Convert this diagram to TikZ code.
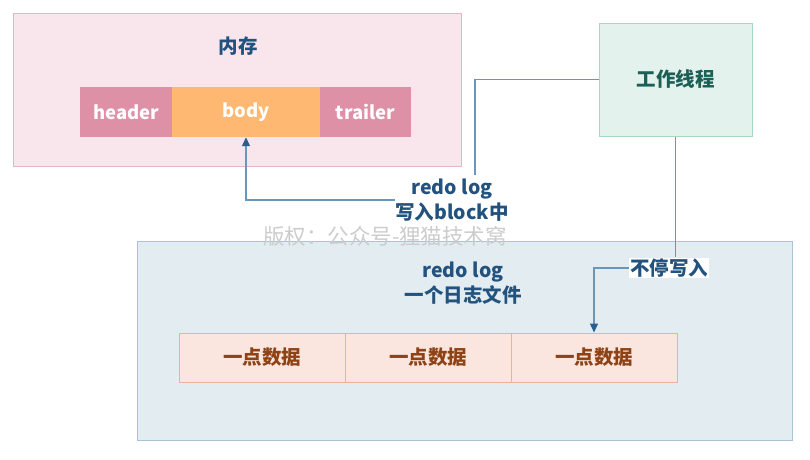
\documentclass[tikz,border=0pt]{standalone}
\usepackage{fontspec}
\setmainfont{Noto Sans CJK SC}
\usetikzlibrary{arrows.meta}
\definecolor{memfill}{HTML}{F9E6EC}
\definecolor{memline}{HTML}{E7B5C4}
\definecolor{hdrfill}{HTML}{DE90A7}
\definecolor{bodyfill}{HTML}{FEB872}
\definecolor{workfill}{HTML}{E3F2EC}
\definecolor{workline}{HTML}{A7D8C2}
\definecolor{worktext}{HTML}{1D5E57}
\definecolor{logfill}{HTML}{E3ECF1}
\definecolor{logline}{HTML}{A7C5D8}
\definecolor{cellfill}{HTML}{FAE6DF}
\definecolor{cellline}{HTML}{E9B29A}
\definecolor{celltext}{HTML}{8E4317}
\definecolor{textblue}{HTML}{22527D}
\definecolor{flowline}{HTML}{6A96B8}
\definecolor{tipblue}{HTML}{2A5F8D}

\begin{document}
\begin{tikzpicture}[x=1pt, y=-1pt, >=Triangle,
    every node/.style={inner sep=0pt, font=\fontsize{19.5}{25}\selectfont\bfseries},
    area/.style={draw=#1, line width=1pt},
    part/.style={minimum height=50pt, text=white, font=\fontsize{18.5}{24}\selectfont\bfseries},
    cell/.style={fill=cellfill, draw=cellline, line width=1pt, minimum width=166pt, minimum height=49pt, text=celltext},
    note/.style={text=textblue, align=center},
    flow/.style={draw=flowline, line width=1.2pt, arrows={-Triangle[length=9pt, width=8pt, color=tipblue]}}]
    \useasboundingbox (0,0) rectangle (810,459);
    % memory
    \filldraw[area=memline, fill=memfill] (13,13) rectangle (461,166);
    \node[note] (memtitle) at (238,46) {内存};
    \node[part, fill=hdrfill, minimum width=92pt] (header) at (126,112) {header};
    \node[part, fill=bodyfill, minimum width=148pt] (body) at (246,112) {body};
    \node[part, fill=hdrfill, minimum width=91pt] (trailer) at (365.5,112) {trailer};
    % worker thread
    \node[area=workline, fill=workfill, minimum width=153pt, minimum height=113pt, text=worktext] (worker) at (675.5,79.5) {工作线程};
    % redo log file
    \filldraw[area=logline, fill=logfill] (137,241) rectangle (792,440);
    \node[note, font=\fontsize{21.5}{26}\selectfont, text=black!20] (mark) at (385,236) {版权：公众号-狸猫技术窝};
    \node[note] (logtitle) at (463,283) {redo log\\一个日志文件};
    \node[cell] (cell1) at (262,357.5) {一点数据};
    \node[cell] (cell2) at (428,357.5) {一点数据};
    \node[cell] (cell3) at (594,357.5) {一点数据};
    % connectors
    \node[note] (writelbl) at (452,200) {redo log\\写入block中};
    \coordinate (wend) at (475,175);
    \draw[draw=flowline, line width=1.2pt] (worker.west) -| (wend);
    \draw[flow] (writelbl.west) -| (body.south);
    \node[note, fill=white, inner sep=1pt] (keeplbl) at (669,268) {不停写入};
    \draw[draw=flowline, line width=1.2pt] (worker.south) -- (worker.south |- keeplbl.north);
    \draw[flow] (keeplbl.west) -| (cell3.north);
\end{tikzpicture}
\end{document}
